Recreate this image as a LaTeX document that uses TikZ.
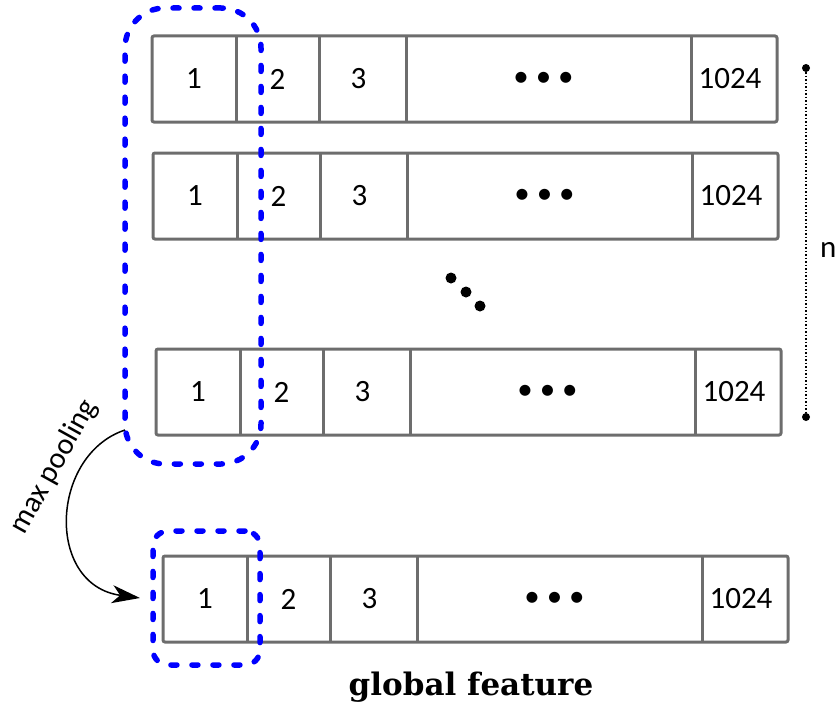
\documentclass[tikz,border=0pt]{standalone}
\usepackage{fontspec}
\setmainfont{Carlito}
\newfontfamily\titlefont{DejaVu Serif}
\usetikzlibrary{arrows.meta}
\definecolor{boxgray}{HTML}{6D6D6D}
\tikzset{
  cell/.style={minimum height=86pt, inner sep=0pt, outer sep=0pt, font=\fontsize{31}{36}\selectfont},
  rowframe/.style={draw=boxgray, line width=3pt, rounded corners=2pt},
  rowline/.style={draw=boxgray, line width=3pt},
  bluebox/.style={draw=blue, line width=5.5pt, dash pattern=on 6pt off 15pt, line cap=round, inner sep=0pt, outer sep=0pt},
  bigdot/.style={circle, fill=black, minimum size=11pt, inner sep=0pt},
  enddot/.style={circle, fill=black, minimum size=8pt, inner sep=0pt},
  arrowline/.style={draw=black, line width=1.5pt, -{Stealth[length=28pt,width=18pt,inset=8pt]}},
}
\newcommand\featrow[3]{%
  \node[cell, minimum width=84pt, anchor=north west] (#1a) at (#2,#3) {1};
  \node[cell, minimum width=83pt, anchor=west] (#1b) at (#1a.east) {2};
  \node[cell, minimum width=87pt, anchor=west] (#1c) at (#1b.east) {\kern-8pt 3};
  \node[cell, minimum width=285pt, anchor=west] (#1d) at (#1c.east) {\kern-10pt•\hspace{7pt}•\hspace{7pt}•};
  \node[cell, minimum width=86pt, anchor=west] (#1e) at (#1d.east) {\kern-8pt 1024};
  \draw[rowframe] (#1a.north west) rectangle (#1e.south east);
  \foreach \c in {a,b,c,d} \draw[rowline] (#1\c.north east) -- (#1\c.south east);
}
\begin{document}
\begin{tikzpicture}[x=1pt, y=-1pt]
\useasboundingbox (0,0) rectangle (835,709);
\featrow{r1}{152}{36}
\featrow{r2}{153}{153}
\featrow{r3}{156}{349}
\featrow{g}{163}{556}
% diagonal dots
\node[bigdot] (d1) at (451,278) {};
\node[bigdot] (d2) at (466,292) {};
\node[bigdot] (d3) at (480,306) {};
% n bracket
\node[enddot] (ntop) at (806,68) {};
\node[enddot] (nbot) at (806,417) {};
\draw[line width=1.5pt, dash pattern=on 1.5pt off 2pt] (ntop) -- (nbot);
\node[anchor=west, inner sep=0pt, font=\fontsize{31}{36}\selectfont] (nlab) at (820,250) {n};
% blue groups
\node[bluebox, minimum width=136pt, minimum height=456pt, rounded corners=40pt] (grp) at (193,236) {};
\node[bluebox, minimum width=107pt, minimum height=134pt, rounded corners=15pt] (pool) at (206.5,598) {};
% arrow
\coordinate (src) at (125,430);
\draw[arrowline] (src) .. controls (50,455) and (45,585) .. ([xshift=-13pt]pool.west);
\node[rotate=61, font=\fontsize{30}{34}\selectfont] (lbl) at (54,467) {max pooling};
% title
\node[font=\titlefont\bfseries\fontsize{31}{36}\selectfont] (title) at (471,687) {global feature};
\end{tikzpicture}
\end{document}
